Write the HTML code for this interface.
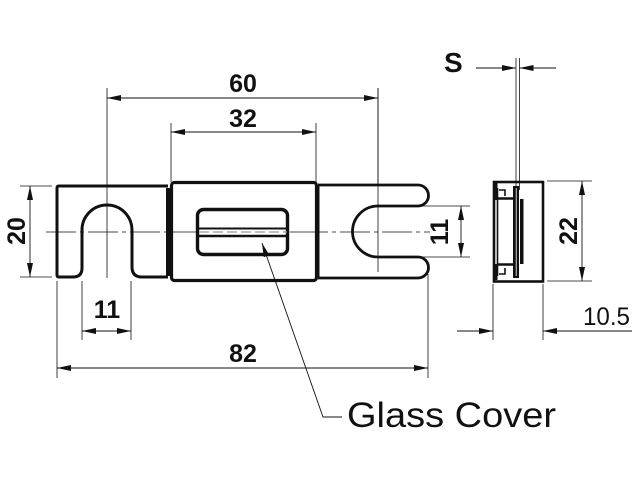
<!DOCTYPE html>
<html><head><meta charset="utf-8"><style>
html,body{margin:0;padding:0;background:#fff;}
svg{display:block;}
text{font-family:"Liberation Sans",Arial,sans-serif;fill:#111;}
</style></head><body>
<svg width="640" height="480" viewBox="0 0 640 480" xmlns="http://www.w3.org/2000/svg">
<defs>
<marker id="a" viewBox="0 0 14 6" refX="14" refY="3" markerWidth="14" markerHeight="6" markerUnits="userSpaceOnUse" orient="auto"><path d="M0,0 L14,3 L0,6 Z" fill="#111"/></marker>
</defs>
<g stroke="#111" fill="none">
<!-- center lines -->
<line x1="46" y1="232" x2="430" y2="232" stroke-width="0.8" stroke-dasharray="30,4,4,4"/>
<line x1="107" y1="88" x2="107" y2="278" stroke-width="0.8"/>
<line x1="378" y1="88" x2="378" y2="272" stroke-width="0.8"/>

<!-- left terminal -->
<path d="M168 186 H59 Q57 186 57 188 V275 Q57 277 59 277 H73 Q82 277 82 268 V230 A25 25 0 0 1 132 230 V267 Q132 277 142 277 H168" stroke-width="3"/>
<line x1="168" y1="188" x2="168" y2="276" stroke-width="4"/>
<!-- right terminal -->
<path d="M318 185 H418 A10.5 10.5 0 0 1 418 206 H378 A25.5 25.5 0 0 0 378 257 H418 A10.5 10.5 0 0 1 418 278 H318" stroke-width="2.8"/>
<line x1="318" y1="186" x2="318" y2="278" stroke-width="3"/>
<!-- body -->
<rect x="171.5" y="182.5" width="145" height="98" rx="3" stroke-width="3.2" fill="#fff"/>
<line x1="173" y1="232" x2="196" y2="232" stroke-width="0.8"/>
<line x1="290" y1="232" x2="316" y2="232" stroke-width="0.8"/>
<!-- window -->
<rect x="197.5" y="209.5" width="90" height="45" rx="6" stroke-width="3.4"/>
<line x1="198" y1="228.5" x2="288" y2="228.5" stroke-width="2"/>
<line x1="198" y1="236" x2="288" y2="236" stroke-width="2.4"/>
<line x1="199" y1="232" x2="287" y2="232" stroke-width="1.2" stroke="#999" stroke-dasharray="10,4"/>

<!-- dimension 60 -->
<line x1="378" y1="88" x2="378" y2="186" stroke-width="0.8"/>
<line x1="240" y1="98" x2="107" y2="98" stroke-width="0.9" marker-end="url(#a)"/>
<line x1="240" y1="98" x2="378" y2="98" stroke-width="0.9" marker-end="url(#a)"/>
<!-- dimension 32 -->
<line x1="171" y1="123" x2="171" y2="182" stroke-width="0.8"/>
<line x1="316" y1="123" x2="316" y2="182" stroke-width="0.8"/>
<line x1="243" y1="132" x2="171" y2="132" stroke-width="0.9" marker-end="url(#a)"/>
<line x1="243" y1="132" x2="316" y2="132" stroke-width="0.9" marker-end="url(#a)"/>
<!-- dimension 20 -->
<line x1="20" y1="186" x2="52" y2="186" stroke-width="0.8"/>
<line x1="20" y1="277" x2="52" y2="277" stroke-width="0.8"/>
<line x1="30" y1="232" x2="30" y2="186" stroke-width="0.9" marker-end="url(#a)"/>
<line x1="30" y1="232" x2="30" y2="277" stroke-width="0.9" marker-end="url(#a)"/>
<!-- dimension 11 bottom -->
<line x1="82" y1="281" x2="82" y2="340" stroke-width="0.8"/>
<line x1="131" y1="281" x2="131" y2="340" stroke-width="0.8"/>
<line x1="107" y1="331" x2="82" y2="331" stroke-width="0.9" marker-end="url(#a)"/>
<line x1="107" y1="331" x2="131" y2="331" stroke-width="0.9" marker-end="url(#a)"/>
<!-- dimension 82 -->
<line x1="57" y1="281" x2="57" y2="378" stroke-width="0.8"/>
<line x1="428" y1="274" x2="428" y2="378" stroke-width="0.8"/>
<line x1="243" y1="368" x2="57" y2="368" stroke-width="0.9" marker-end="url(#a)"/>
<line x1="243" y1="368" x2="428" y2="368" stroke-width="0.9" marker-end="url(#a)"/>
<!-- dimension 11 right -->
<line x1="385" y1="206" x2="470" y2="206" stroke-width="0.8"/>
<line x1="385" y1="257" x2="470" y2="257" stroke-width="0.8"/>
<line x1="461" y1="231" x2="461" y2="206" stroke-width="0.9" marker-end="url(#a)"/>
<line x1="461" y1="231" x2="461" y2="257" stroke-width="0.9" marker-end="url(#a)"/>

<!-- side view -->
<rect x="494" y="182" width="49" height="99.5" stroke-width="2.6"/>
<line x1="497.5" y1="188" x2="497.5" y2="276" stroke-width="1.6"/>
<line x1="496" y1="183" x2="496" y2="200" stroke-width="3"/>
<line x1="496" y1="264" x2="496" y2="280" stroke-width="3"/>
<line x1="497" y1="198.5" x2="515" y2="198.5" stroke-width="2.6"/>
<line x1="497" y1="264.5" x2="515" y2="264.5" stroke-width="2.6"/>
<path d="M499 190 H505 V196" stroke-width="1.6"/>
<path d="M499 274 H505 V268" stroke-width="1.6"/>
<rect x="513" y="186" width="6" height="92" fill="#111" stroke="none"/>
<rect x="520" y="199" width="3.5" height="65" fill="#111" stroke="none"/>
<line x1="516" y1="58" x2="516" y2="190" stroke-width="0.8"/>
<line x1="519.5" y1="58" x2="519.5" y2="190" stroke-width="0.8"/>
<line x1="516.2" y1="188" x2="516.2" y2="276" stroke-width="0.8" stroke="#fff"/>
<!-- S dim -->
<line x1="476" y1="68" x2="516" y2="68" stroke-width="0.9" marker-end="url(#a)"/>
<line x1="556" y1="68" x2="519.5" y2="68" stroke-width="0.9" marker-end="url(#a)"/>
<!-- 22 dim -->
<line x1="547" y1="181" x2="592" y2="181" stroke-width="0.8"/>
<line x1="547" y1="281" x2="592" y2="281" stroke-width="0.8"/>
<line x1="582" y1="231" x2="582" y2="181" stroke-width="0.9" marker-end="url(#a)"/>
<line x1="582" y1="231" x2="582" y2="281" stroke-width="0.9" marker-end="url(#a)"/>
<!-- 10.5 dim -->
<line x1="493" y1="284" x2="493" y2="340" stroke-width="0.8"/>
<line x1="543" y1="284" x2="543" y2="340" stroke-width="0.8"/>
<line x1="457" y1="331" x2="493" y2="331" stroke-width="0.9" marker-end="url(#a)"/>
<line x1="632" y1="331" x2="543" y2="331" stroke-width="0.9" marker-end="url(#a)"/>

<!-- glass cover leader -->
<polyline points="342,417 323,417 262,243" stroke-width="0.9" marker-end="url(#a)"/>
</g>

<g font-weight="bold" font-size="25">
<text x="243" y="92" text-anchor="middle">60</text>
<text x="243" y="127" text-anchor="middle">32</text>
<text x="107" y="318" text-anchor="middle">11</text>
<text x="243" y="362" text-anchor="middle">82</text>
<text transform="translate(25,231) rotate(-90)" text-anchor="middle">20</text>
<text transform="translate(448,232) rotate(-90)" text-anchor="middle">11</text>
<text transform="translate(577,231) rotate(-90)" text-anchor="middle">22</text>
<text x="444" y="72" font-size="28">S</text>
</g>
<text x="583" y="325" font-size="25" textLength="47" lengthAdjust="spacingAndGlyphs">10.5</text>
<text x="347" y="427" font-size="35" textLength="209" lengthAdjust="spacingAndGlyphs">Glass Cover</text>
</svg>
</body></html>
